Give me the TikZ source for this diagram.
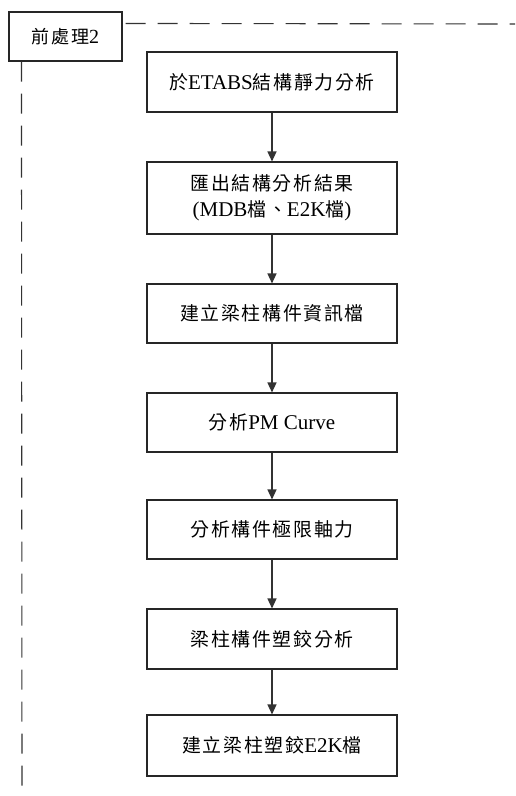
\documentclass[tikz,border=0pt]{standalone}
\usepackage{fontspec}
\setmainfont{Liberation Serif}
\newfontfamily\cjk{Noto Sans CJK TC}[Scale=0.9,LetterSpace=9]
\newcommand\zh[1]{{\cjk #1}}
\usetikzlibrary{arrows.meta}
\tikzset{
  stepbox/.style={draw=black!85, line width=1.1pt, minimum width=250pt,
    inner sep=0pt, align=center, font=\fontsize{21pt}{26pt}\selectfont},
  tagbox/.style={draw=black!85, line width=1.1pt, minimum width=113pt,
    minimum height=49pt, inner sep=0pt, font=\fontsize{20pt}{26pt}\selectfont},
  flow/.style={draw=black!80, line width=1.4pt,
    -{Triangle[length=10pt,width=9pt]}},
  frameline/.style={draw=black!80, line width=1.1pt, dash pattern=on 20pt off 12pt}
}
\begin{document}
\begin{tikzpicture}[x=1pt,y=1pt]
  \useasboundingbox (0,0) rectangle (515,-796);

  % section tag and its dashed frame
  \node[tagbox] (tag) at (65.5,-36.5) {\zh{前處理}2};
  \coordinate (frameR) at (515,-24);
  \coordinate (frameB) at (22,-796);
  \draw[frameline] ([shift={(3pt,-12pt)}]tag.north east) -- (frameR);
  \draw[frameline] ([xshift=13pt]tag.south west) -- (frameB);

  % processing steps
  \node[stepbox, minimum height=60pt] (s1) at (272,-82) {\zh{於}ETABS\zh{結構靜力分析}};
  \node[stepbox, minimum height=72pt] (s2) at (272,-198) {\zh{匯出結構分析結果}\\(MDB\zh{檔、}E2K\zh{檔})};
  \node[stepbox, minimum height=59pt] (s3) at (272,-313.5) {\zh{建立梁柱構件資訊檔}};
  \node[stepbox, minimum height=59pt] (s4) at (272,-422.5) {\zh{分析}PM Curve};
  \node[stepbox, minimum height=59pt] (s5) at (272,-529.5) {\zh{分析構件極限軸力}};
  \node[stepbox, minimum height=60pt] (s6) at (272,-639) {\zh{梁柱構件塑鉸分析}};
  \node[stepbox, minimum height=61pt] (s7) at (272,-745.5) {\zh{建立梁柱塑鉸}E2K\zh{檔}};

  \draw[flow] (s1) -- (s2);
  \draw[flow] (s2) -- (s3);
  \draw[flow] (s3) -- (s4);
  \draw[flow] (s4) -- (s5);
  \draw[flow] (s5) -- (s6);
  \draw[flow] (s6) -- (s7);
\end{tikzpicture}
\end{document}
